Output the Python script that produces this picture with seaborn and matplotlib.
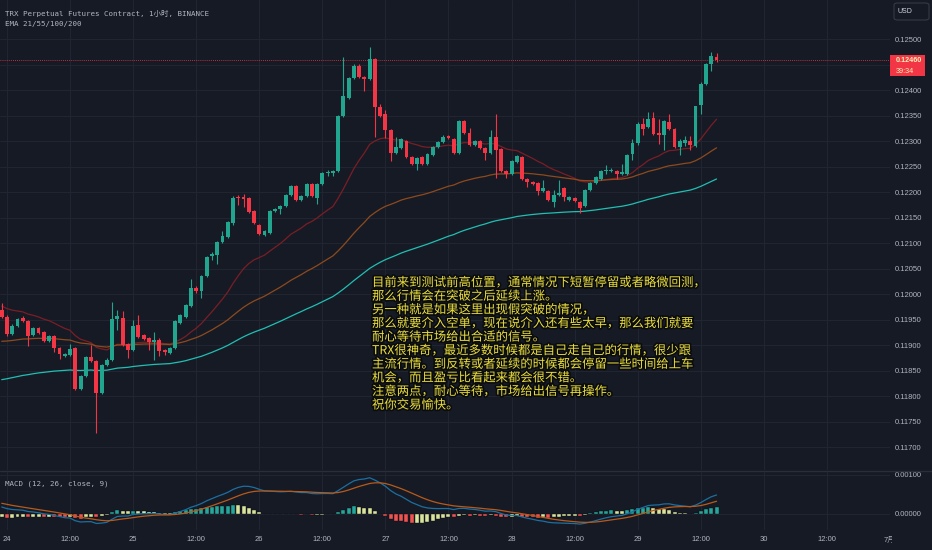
import numpy as np
import pandas as pd
import matplotlib
matplotlib.use("Agg")
import matplotlib.pyplot as plt
import seaborn as sns
from matplotlib import patheffects
from matplotlib.patches import Rectangle, FancyBboxPatch
from matplotlib.transforms import Bbox, blended_transform_factory

# 1h candles, hour index counted from the 24th 00:00
hours = np.arange(-1, 136)

opens = [0.11969, 0.11955, 0.11922, 0.11938, 0.11953, 0.11948, 0.11920, 0.11934, 0.11926, 0.11908,
         0.11918, 0.11895, 0.11879, 0.11881, 0.11895, 0.11814, 0.11840, 0.11877, 0.11869, 0.11806,
         0.11861, 0.11871, 0.11951, 0.11953, 0.11902, 0.11891, 0.11940, 0.11920, 0.11914, 0.11906,
         0.11910, 0.11891, 0.11885, 0.11895, 0.11944, 0.11955, 0.11977, 0.12012, 0.12006, 0.12036,
         0.12075, 0.12077, 0.12102, 0.12112, 0.12140, 0.12191, 0.12191, 0.12189, 0.12163, 0.12136,
         0.12116, 0.12120, 0.12163, 0.12167, 0.12173, 0.12195, 0.12212, 0.12185, 0.12193, 0.12216,
         0.12189, 0.12216, 0.12238, 0.12238, 0.12242, 0.12350, 0.12385, 0.12424, 0.12448, 0.12426,
         0.12422, 0.12461, 0.12367, 0.12353, 0.12322, 0.12277, 0.12287, 0.12300, 0.12269, 0.12255,
         0.12269, 0.12255, 0.12273, 0.12289, 0.12299, 0.12310, 0.12304, 0.12277, 0.12340, 0.12316,
         0.12293, 0.12300, 0.12287, 0.12277, 0.12308, 0.12285, 0.12242, 0.12236, 0.12259, 0.12269,
         0.12226, 0.12220, 0.12218, 0.12202, 0.12202, 0.12181, 0.12195, 0.12208, 0.12185, 0.12189,
         0.12181, 0.12173, 0.12204, 0.12218, 0.12226, 0.12242, 0.12242, 0.12242, 0.12236, 0.12236,
         0.12275, 0.12297, 0.12334, 0.12328, 0.12346, 0.12316, 0.12312, 0.12338, 0.12324, 0.12289,
         0.12297, 0.12300, 0.12291, 0.12371, 0.12412, 0.12451, 0.12465]
highs = [0.11983, 0.11959, 0.11942, 0.11953, 0.11957, 0.11949, 0.11936, 0.11936, 0.11928, 0.11920,
         0.11920, 0.11897, 0.11885, 0.11902, 0.11897, 0.11842, 0.11879, 0.11900, 0.11871, 0.11863,
         0.11875, 0.11985, 0.11969, 0.11967, 0.11904, 0.11949, 0.11959, 0.11922, 0.11916, 0.11926,
         0.11914, 0.11893, 0.11897, 0.11949, 0.11961, 0.11981, 0.12030, 0.12016, 0.12038, 0.12075,
         0.12083, 0.12104, 0.12124, 0.12144, 0.12193, 0.12195, 0.12197, 0.12191, 0.12165, 0.12138,
         0.12126, 0.12165, 0.12169, 0.12175, 0.12197, 0.12214, 0.12214, 0.12195, 0.12218, 0.12218,
         0.12218, 0.12240, 0.12244, 0.12244, 0.12352, 0.12465, 0.12426, 0.12451, 0.12451, 0.12428,
         0.12485, 0.12463, 0.12373, 0.12361, 0.12324, 0.12308, 0.12306, 0.12302, 0.12271, 0.12269,
         0.12271, 0.12277, 0.12291, 0.12300, 0.12312, 0.12312, 0.12306, 0.12342, 0.12342, 0.12326,
         0.12302, 0.12302, 0.12289, 0.12322, 0.12353, 0.12287, 0.12244, 0.12263, 0.12273, 0.12271,
         0.12228, 0.12222, 0.12220, 0.12224, 0.12204, 0.12204, 0.12224, 0.12210, 0.12193, 0.12191,
         0.12183, 0.12206, 0.12220, 0.12232, 0.12244, 0.12253, 0.12248, 0.12244, 0.12255, 0.12275,
         0.12304, 0.12338, 0.12346, 0.12357, 0.12357, 0.12344, 0.12342, 0.12353, 0.12326, 0.12304,
         0.12310, 0.12310, 0.12369, 0.12416, 0.12453, 0.12475, 0.12473]
lows = [0.11953, 0.11918, 0.11920, 0.11936, 0.11946, 0.11898, 0.11918, 0.11922, 0.11906, 0.11906,
        0.11887, 0.11873, 0.11877, 0.11879, 0.11812, 0.11812, 0.11838, 0.11867, 0.11728, 0.11804,
        0.11859, 0.11869, 0.11930, 0.11898, 0.11875, 0.11889, 0.11914, 0.11910, 0.11891, 0.11871,
        0.11879, 0.11881, 0.11883, 0.11893, 0.11942, 0.11953, 0.11975, 0.12002, 0.11993, 0.12034,
        0.12067, 0.12060, 0.12100, 0.12110, 0.12136, 0.12175, 0.12171, 0.12159, 0.12138, 0.12116,
        0.12114, 0.12118, 0.12161, 0.12157, 0.12171, 0.12193, 0.12183, 0.12183, 0.12191, 0.12191,
        0.12177, 0.12214, 0.12232, 0.12232, 0.12240, 0.12348, 0.12383, 0.12422, 0.12424, 0.12399,
        0.12420, 0.12308, 0.12348, 0.12306, 0.12261, 0.12275, 0.12285, 0.12267, 0.12253, 0.12244,
        0.12253, 0.12253, 0.12271, 0.12287, 0.12297, 0.12304, 0.12275, 0.12275, 0.12314, 0.12291,
        0.12291, 0.12285, 0.12263, 0.12275, 0.12228, 0.12240, 0.12228, 0.12234, 0.12257, 0.12224,
        0.12210, 0.12214, 0.12195, 0.12200, 0.12183, 0.12171, 0.12193, 0.12183, 0.12183, 0.12181,
        0.12159, 0.12171, 0.12202, 0.12216, 0.12224, 0.12236, 0.12240, 0.12226, 0.12234, 0.12234,
        0.12263, 0.12293, 0.12312, 0.12326, 0.12312, 0.12295, 0.12283, 0.12322, 0.12287, 0.12273,
        0.12291, 0.12283, 0.12289, 0.12353, 0.12410, 0.12438, 0.12455]
closes = [0.11955, 0.11922, 0.11938, 0.11951, 0.11948, 0.11918, 0.11934, 0.11924, 0.11908, 0.11918,
          0.11895, 0.11883, 0.11883, 0.11893, 0.11814, 0.11840, 0.11877, 0.11869, 0.11806, 0.11861,
          0.11871, 0.11951, 0.11957, 0.11900, 0.11891, 0.11938, 0.11916, 0.11912, 0.11906, 0.11910,
          0.11889, 0.11887, 0.11895, 0.11948, 0.11959, 0.11979, 0.12012, 0.12006, 0.12036, 0.12073,
          0.12079, 0.12102, 0.12114, 0.12142, 0.12189, 0.12189, 0.12187, 0.12161, 0.12140, 0.12118,
          0.12124, 0.12163, 0.12167, 0.12173, 0.12195, 0.12212, 0.12185, 0.12193, 0.12216, 0.12193,
          0.12216, 0.12238, 0.12240, 0.12242, 0.12350, 0.12389, 0.12424, 0.12448, 0.12426, 0.12422,
          0.12461, 0.12367, 0.12350, 0.12322, 0.12277, 0.12289, 0.12304, 0.12269, 0.12255, 0.12267,
          0.12255, 0.12275, 0.12289, 0.12299, 0.12308, 0.12306, 0.12277, 0.12340, 0.12316, 0.12293,
          0.12300, 0.12287, 0.12277, 0.12308, 0.12283, 0.12242, 0.12236, 0.12261, 0.12271, 0.12226,
          0.12220, 0.12216, 0.12202, 0.12208, 0.12185, 0.12195, 0.12199, 0.12191, 0.12191, 0.12183,
          0.12169, 0.12204, 0.12218, 0.12230, 0.12242, 0.12244, 0.12244, 0.12236, 0.12240, 0.12273,
          0.12297, 0.12334, 0.12324, 0.12344, 0.12314, 0.12312, 0.12340, 0.12324, 0.12289, 0.12300,
          0.12302, 0.12293, 0.12369, 0.12412, 0.12451, 0.12467, 0.12460]

# indicator values at the first visible candle
ema_seeds = {21: 0.11979, 55: 0.11906, 100: 0.11830}
macd_fast_seed, macd_slow_seed, macd_signal_seed = 0.11960, 0.11941, 0.00029

price_ticks = [0.11700, 0.11750, 0.11800, 0.11850, 0.11900, 0.11950, 0.12000, 0.12050,
               0.12100, 0.12150, 0.12200, 0.12250, 0.12300, 0.12350, 0.12400, 0.12450, 0.12500]
hidden_price_label = 0.12450  # covered by the last-price tag
macd_ticks = [0.00000, 0.00100]
time_ticks = [0, 12, 24, 36, 48, 60, 72, 84, 96, 108, 120, 132, 144, 156, 168]
time_labels = ["24", "12:00", "25", "12:00", "26", "12:00", "27", "12:00", "28",
               "12:00", "29", "12:00", "30", "12:00", "7月"]

note_lines = [
    "目前来到测试前高位置，通常情况下短暂停留或者略微回测，",
    "那么行情会在突破之后延续上涨。",
    "另一种就是如果这里出现假突破的情况，",
    "那么就要介入空单，现在说介入还有些太早，那么我们就要",
    "耐心等待市场给出合适的信号。",
    "TRX很神奇，最近多数时候都是自己走自己的行情，很少跟",
    "主流行情。到反转或者延续的时候都会停留一些时间给上车",
    "机会，而且盈亏比看起来都会很不错。",
    "注意两点，耐心等待，市场给出信号再操作。",
    "祝你交易愉快。",
]

BG = "#161a25"
GRID = "#212532"
TXT = "#b2b5be"
UP = "#22a58f"
DOWN = "#f23645"

sns.set_theme(style="dark", rc={"axes.facecolor": BG, "figure.facecolor": BG})
plt.rcParams["font.family"] = ["Liberation Sans", "DejaVu Sans", "Noto Sans CJK SC"]

opens, highs, lows, closes = map(np.array, (opens, highs, lows, closes))


def ema(values, span, seed):
    s = pd.Series([seed] + list(values))
    return s.ewm(span=span, adjust=False).mean().to_numpy()[1:]


W, H = 932, 550
fx = lambda px: px / W
fy = lambda py: 1 - py / H

fig = plt.figure(figsize=(W / 100, H / 100), dpi=100)
ax = fig.add_axes([0, fy(470), fx(890), fy(0) - fy(470)])
ax2 = fig.add_axes([0, fy(530), fx(890), fy(472) - fy(530)], sharex=ax)

for a in (ax, ax2):
    a.set_facecolor(BG)
    for sp in a.spines.values():
        sp.set_visible(False)
    a.grid(True, color=GRID, lw=0.8)
    a.yaxis.tick_right()
    a.tick_params(axis="y", length=0, pad=3.5, labelsize=5.5, labelcolor=TXT)
    a.tick_params(axis="x", length=0, labelbottom=False)
    a.set_xticks(time_ticks)

ax.set_xlim(-1.33, 168.0)
ax.set_ylim(0.116553, 0.12577)
ax.set_yticks(price_ticks)
ax.set_yticklabels(["" if v == hidden_price_label else f"{v:.5f}" for v in price_ticks])
ax2.set_ylim(-0.000418, 0.001069)
ax2.set_yticks(macd_ticks)
ax2.set_yticklabels([f"{v:.5f}" for v in macd_ticks])

# EMAs
ema_colors = {21: "#7a1e26", 55: "#8e4a1d", 100: "#20bfb3"}
for span, seed in ema_seeds.items():
    sns.lineplot(x=hours, y=ema(closes, span, seed), ax=ax, color=ema_colors[span],
                 lw=0.9, zorder=2)

# candles
up = closes >= opens
cols = np.where(up, UP, DOWN)
ax.vlines(hours, lows, highs, colors=cols, lw=0.8, zorder=3)
ax.bar(hours, np.maximum(np.abs(closes - opens), 0.000012), bottom=np.minimum(opens, closes),
       width=0.74, color=cols, linewidth=0, zorder=4)
ax.axhline(closes[-1], color=DOWN, ls=(0, (1, 1.5)), lw=0.6, zorder=1)

# MACD
macd = ema(closes, 12, macd_fast_seed) - ema(closes, 26, macd_slow_seed)
signal = ema(macd, 9, macd_signal_seed)
hist = macd - signal
prev = np.r_[hist[0], hist[:-1]]
PALE = "#d8e49b"
hcols = np.where(hist >= 0, np.where(hist > prev, "#26a69a", PALE),
                 np.where(hist < prev, "#ef5350", PALE))
ax2.bar(hours, hist, width=0.76, color=hcols, edgecolor="#0d0f15", linewidth=0.3, zorder=2)
sns.lineplot(x=hours, y=macd, ax=ax2, color="#1d6fa0", lw=0.9, zorder=3)
sns.lineplot(x=hours, y=signal, ax=ax2, color="#b85a1b", lw=0.9, zorder=3)

# time labels under the MACD pane
tr = blended_transform_factory(ax2.transData, ax2.transAxes)
for h, lab in zip(time_ticks, time_labels):
    t = ax2.text(h, -0.172, lab, transform=tr, ha="center", va="center",
                 fontsize=5.5, color=TXT, clip_on=False)
    if lab == "7月":
        t.set_clip_on(True)
        t.set_clip_box(Bbox.from_extents(0, 0, 892, H))

# pane separator
fig.add_artist(plt.Line2D([0, 1], [fy(471), fy(471)], transform=fig.transFigure,
                          color="#2a2e39", lw=1.0))

# titles
mono = ["DejaVu Sans Mono", "Noto Sans CJK SC"]
fig.text(fx(5), fy(13), "TRX Perpetual Futures Contract, 1小时, BINANCE", family=mono,
         fontsize=5.4, color=TXT, va="center")
fig.text(fx(5), fy(24), "EMA 21/55/100/200", family=mono, fontsize=5.4, color=TXT, va="center")
fig.text(fx(5), fy(484), "MACD (12, 26, close, 9)", family=mono, fontsize=5.4, color=TXT,
         va="center")

# USD box and last price tag
fig.add_artist(FancyBboxPatch((fx(894), fy(20)), fx(35), fy(3) - fy(20),
                              boxstyle="round,pad=0,rounding_size=0.004",
                              transform=fig.transFigure, facecolor=BG, edgecolor="#363a45",
                              lw=0.8))
fig.text(fx(898), fy(11.5), "USD", fontsize=5.0, color="#d1d4dc", va="center")
fig.add_artist(Rectangle((fx(890), fy(76)), fx(35), fy(55) - fy(76),
                         transform=fig.transFigure, facecolor=DOWN, edgecolor="none"))
fig.text(fx(896), fy(61), f"{closes[-1]:.5f}", fontsize=5.2, color="#f4f1b4", va="center",
         weight="bold")
fig.text(fx(896), fy(71), "39:34", fontsize=5.2, color="#f4f1b4", va="center")

# annotation text
for i, line in enumerate(note_lines):
    fig.text(fx(372), fy(282.7 + i * 13.6), line, fontsize=8.9, color="#ecdf3a", va="center",
             family=["Noto Sans CJK SC", "DejaVu Sans"],
             path_effects=[patheffects.withStroke(linewidth=2.4, foreground="#0a0c10")])

fig.savefig("out.png", dpi=100, facecolor=BG)
